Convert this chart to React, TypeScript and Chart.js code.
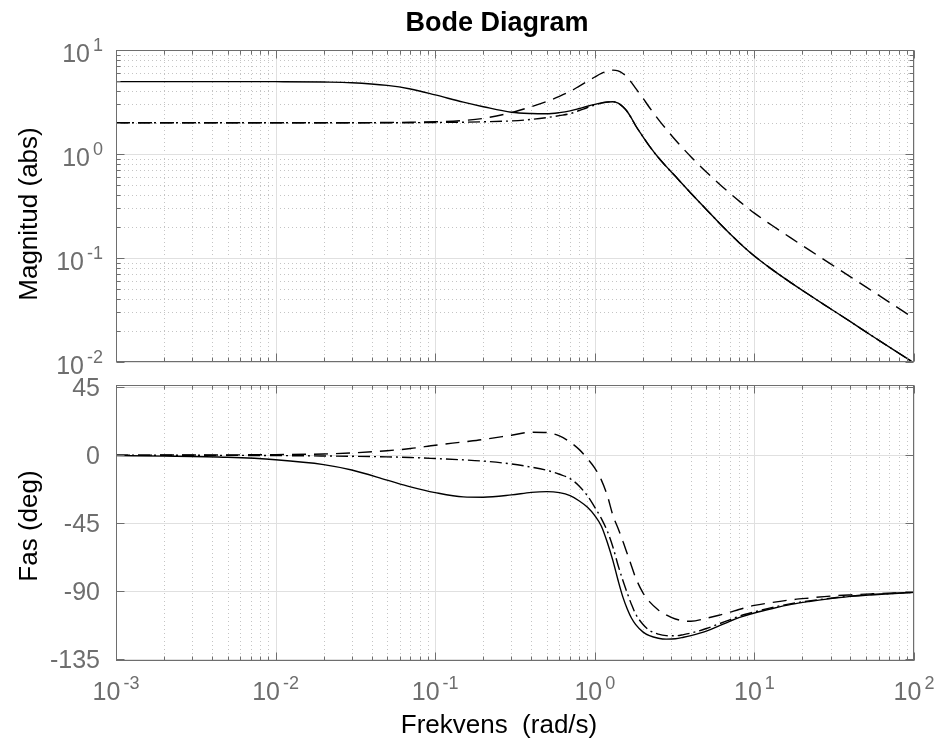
import React, { useEffect, useRef } from 'react';
import { Chart, registerables } from 'chart.js';

Chart.register(...registerables);

// ---------------- data ----------------
const freqs = [
  0.001, 0.002, 0.005, 0.01, 0.02, 0.03, 0.05, 0.07, 0.1, 0.15, 0.2, 0.3, 0.4, 0.5, 0.6, 0.7,
  0.8, 0.9, 1.0, 1.1, 1.2, 1.3, 1.4, 1.5, 1.6, 1.7, 1.8, 2.0, 2.2, 2.5, 2.8, 3.2, 3.6, 4.0,
  5.0, 6.0, 7.0, 8.0, 10, 13, 17, 22, 30, 40, 55, 75, 100,
];

const magSolid = [
  4.97, 4.97, 4.97, 4.96, 4.92, 4.85, 4.57, 4.22, 3.7, 3.15, 2.85, 2.52, 2.45, 2.44, 2.5, 2.6,
  2.74, 2.88, 3.0, 3.1, 3.16, 3.18, 3.08, 2.85, 2.55, 2.2, 1.88, 1.47, 1.19, 0.925, 0.76, 0.61,
  0.5, 0.42, 0.293, 0.2185, 0.172, 0.1412, 0.1045, 0.0769, 0.0577, 0.0443, 0.0325, 0.0244, 0.0177,
  0.013, 0.0098,
];

const magDashed = [
  2.0, 2.0, 2.0, 2.0, 2.0, 2.0, 2.01, 2.02, 2.04, 2.1, 2.2, 2.5, 2.85, 3.2, 3.58, 4.0,
  4.5, 5.0, 5.5, 5.95, 6.25, 6.4, 6.3, 5.95, 5.45, 4.85, 4.3, 3.45, 2.8, 2.155, 1.737, 1.365,
  1.117, 0.942, 0.671, 0.518, 0.421, 0.354, 0.27, 0.2043, 0.155, 0.1198, 0.0878, 0.0659, 0.0479,
  0.0351, 0.0263,
];

const magDashDot = [
  2.0, 2.0, 2.0, 2.0, 2.0, 2.0, 2.0, 2.0, 2.01, 2.02, 2.04, 2.08, 2.15, 2.24, 2.34, 2.44,
  2.62, 2.8, 2.96, 3.08, 3.15, 3.18, 3.08, 2.85, 2.55, 2.2, 1.88, 1.47, 1.19, 0.925, 0.76, 0.61,
  0.5, 0.42, 0.293, 0.2185, 0.172, 0.1412, 0.1045, 0.0769, 0.0577, 0.0443, 0.0325, 0.0244, 0.0177,
  0.013, 0.0098,
];

const phaseSolid = [
  -0.3, -0.6, -1.4, -3.0, -6.2, -9.8, -16.5, -21, -24.8, -27.6, -27.8, -26.3, -24.6, -24.1, -24.8, -26.8,
  -30.3, -34.5, -40, -47, -58, -70, -83, -94, -102, -108, -112, -117, -119.5, -121.2, -121.8, -121.6,
  -120.6, -119.5, -116.5, -113, -110, -107.6, -104.5, -101.5, -98.8, -96.9, -95, -93.5, -92.4,
  -91.6, -90.8,
];

const phaseDashed = [
  0, 0.1, 0.2, 0.4, 0.8, 1.5, 3.0, 4.4, 6.6, 8.8, 10.4, 13.2, 15.2, 15.0, 12.8, 8.7,
  3.7, -2.3, -8.5, -16.5, -27, -40, -48.5, -57, -65.5, -73.5, -81, -91, -97, -102.5, -105.8, -108.5,
  -109.7, -110, -108, -106, -104, -102.2, -99.5, -97.5, -95.8, -94.6, -93.3, -92.5, -91.8,
  -91.2, -90.8,
];

const phaseDashDot = [
  0, -0.05, -0.1, -0.25, -0.5, -0.7, -1.1, -1.5, -2.2, -3.1, -3.9, -5.8, -7.9, -10, -12.6, -15.5,
  -20.5, -27, -34.5, -42, -50.5, -61, -73, -83, -91.5, -99, -105, -112, -116, -118.5, -119.5, -119.6,
  -118.8, -117.8, -114.8, -111.7, -109, -106.7, -103.8, -100.8, -98.3, -96.5, -94.7, -93.3, -92.3,
  -91.5, -90.8,
];

const xTickValues = [0.001, 0.01, 0.1, 1, 10, 100];
const xTickExponents = ['-3', '-2', '-1', '0', '1', '2'];
const magTickValues = [0.01, 0.1, 1, 10];
const magTickExponents = ['-2', '-1', '0', '1'];
const phaseTickValues = [-135, -90, -45, 0, 45];
const phaseTickLabels = ['-135', '-90', '-45', '0', '45'];
const minorMultipliers = [2, 3, 4, 5, 6, 7, 8, 9];

const titleText = 'Bode Diagram';
const magLabel = 'Magnitud (abs)';
const phaseLabel = 'Fas (deg)';
const freqLabel = 'Frekvens  (rad/s)';

// ---------------- styling ----------------
const FONT = '"Liberation Sans", Arial, Helvetica, sans-serif';
const AXIS_COLOR = '#6e6e6e';
const TICK_TEXT = '#6e6e6e';
const MAJOR_GRID = '#e0e0e0';
const MINOR_GRID = '#c4c4c4';
const W = 939;
const H = 742;

function minorValues(decades: number[]) {
  const out: number[] = [];
  decades.forEach((d) => minorMultipliers.forEach((m) => out.push(m * Math.pow(10, d))));
  return out;
}

function drawPow(ctx: CanvasRenderingContext2D, exp: string, x: number, baseline: number, align: 'center' | 'right') {
  ctx.font = `25px ${FONT}`;
  const wb = ctx.measureText('10').width;
  ctx.font = `18px ${FONT}`;
  const we = ctx.measureText(exp).width;
  const gap = 3;
  const total = wb + gap + we;
  const x0 = align === 'center' ? x - total / 2 : x - total;
  ctx.textAlign = 'left';
  ctx.textBaseline = 'alphabetic';
  ctx.font = `25px ${FONT}`;
  ctx.fillText('10', x0, baseline);
  ctx.font = `18px ${FONT}`;
  ctx.fillText(exp, x0 + wb + gap, baseline - 11);
}

function framePlugin(kind: 'mag' | 'phase') {
  const isMag = kind === 'mag';
  return {
    id: 'frame_' + kind,
    beforeDatasetsDraw(chart: any) {
      const { ctx, chartArea: a } = chart;
      const x = chart.scales.x;
      const y = chart.scales.y;
      ctx.save();
      ctx.lineWidth = 1;
      // minor dotted grid
      ctx.strokeStyle = MINOR_GRID;
      ctx.setLineDash([1, 3]);
      minorValues([-3, -2, -1, 0, 1]).forEach((v) => {
        const px = Math.round(x.getPixelForValue(v)) + 0.5;
        ctx.beginPath();
        ctx.moveTo(px, a.top);
        ctx.lineTo(px, a.bottom);
        ctx.stroke();
      });
      if (isMag) {
        minorValues([-2, -1, 0]).forEach((v) => {
          const py = Math.round(y.getPixelForValue(v)) + 0.5;
          ctx.beginPath();
          ctx.moveTo(a.left, py);
          ctx.lineTo(a.right, py);
          ctx.stroke();
        });
      }
      // major solid grid
      ctx.setLineDash([]);
      ctx.strokeStyle = MAJOR_GRID;
      xTickValues.forEach((v) => {
        const px = Math.round(x.getPixelForValue(v)) + 0.5;
        ctx.beginPath();
        ctx.moveTo(px, a.top);
        ctx.lineTo(px, a.bottom);
        ctx.stroke();
      });
      (isMag ? magTickValues : phaseTickValues).forEach((v) => {
        const py = Math.round(y.getPixelForValue(v)) + 0.5;
        ctx.beginPath();
        ctx.moveTo(a.left, py);
        ctx.lineTo(a.right, py);
        ctx.stroke();
      });
      ctx.restore();
    },
    afterDraw(chart: any) {
      const { ctx, chartArea: a } = chart;
      const x = chart.scales.x;
      const y = chart.scales.y;
      ctx.save();
      ctx.setLineDash([]);
      ctx.strokeStyle = AXIS_COLOR;
      ctx.lineWidth = 1;
      const L = Math.round(a.left) + 0.5;
      const R = Math.round(a.right) - 0.5;
      const T = Math.round(a.top) + 0.5;
      const B = Math.round(a.bottom) - 0.5;
      ctx.strokeRect(L, T, R - L, B - T);
      const tick = (x1: number, y1: number, x2: number, y2: number) => {
        ctx.beginPath();
        ctx.moveTo(x1, y1);
        ctx.lineTo(x2, y2);
        ctx.stroke();
      };
      // x ticks (top & bottom)
      xTickValues.forEach((v) => {
        const px = Math.round(x.getPixelForValue(v)) + 0.5;
        tick(px, T, px, T + 8);
        tick(px, B, px, B - 8);
      });
      minorValues([-3, -2, -1, 0, 1]).forEach((v) => {
        const px = Math.round(x.getPixelForValue(v)) + 0.5;
        tick(px, T, px, T + 4);
        tick(px, B, px, B - 4);
      });
      // y ticks (left & right)
      (isMag ? magTickValues : phaseTickValues).forEach((v) => {
        const py = Math.round(y.getPixelForValue(v)) + 0.5;
        tick(L, py, L + 8, py);
        tick(R, py, R - 8, py);
      });
      if (isMag) {
        minorValues([-2, -1, 0]).forEach((v) => {
          const py = Math.round(y.getPixelForValue(v)) + 0.5;
          tick(L, py, L + 4, py);
          tick(R, py, R - 4, py);
        });
      }
      // tick labels
      ctx.fillStyle = TICK_TEXT;
      if (isMag) {
        magTickValues.forEach((v, i) => {
          const py = y.getPixelForValue(v);
          drawPow(ctx, magTickExponents[i], 103, py + 12, 'right');
        });
      } else {
        ctx.font = `25px ${FONT}`;
        ctx.textAlign = 'right';
        ctx.textBaseline = 'alphabetic';
        phaseTickValues.forEach((v, i) => {
          const py = y.getPixelForValue(v);
          ctx.fillText(phaseTickLabels[i], 100, py + 9);
        });
        xTickValues.forEach((v, i) => {
          const px = x.getPixelForValue(v);
          drawPow(ctx, xTickExponents[i], px, 700, 'center');
        });
      }
      // titles
      ctx.fillStyle = '#000';
      if (isMag) {
        ctx.font = `bold 27px ${FONT}`;
        ctx.textAlign = 'center';
        ctx.textBaseline = 'alphabetic';
        ctx.fillText(titleText, 497, 31);
      } else {
        ctx.font = `26px ${FONT}`;
        ctx.textAlign = 'center';
        ctx.textBaseline = 'alphabetic';
        ctx.fillText(freqLabel, 499, 733);
      }
      ctx.save();
      ctx.translate(37, isMag ? 214 : 526);
      ctx.rotate(-Math.PI / 2);
      ctx.font = `26px ${FONT}`;
      ctx.textAlign = 'center';
      ctx.textBaseline = 'alphabetic';
      ctx.fillText(isMag ? magLabel : phaseLabel, 0, 0);
      ctx.restore();
      ctx.restore();
    },
  };
}

const dashes: number[][] = [[], [14, 8], [12, 4, 2, 4]];

function makeConfig(kind: 'mag' | 'phase') {
  const isMag = kind === 'mag';
  const series = isMag ? [magSolid, magDashed, magDashDot] : [phaseSolid, phaseDashed, phaseDashDot];
  return {
    type: 'line',
    data: {
      datasets: series.map((s, i) => ({
        data: freqs.map((f, j) => ({ x: f, y: s[j] })),
        borderColor: '#000000',
        borderWidth: 1.4,
        borderDash: dashes[i],
        pointRadius: 0,
        cubicInterpolationMode: 'monotone',
        fill: false,
      })),
    },
    options: {
      animation: false,
      responsive: false,
      devicePixelRatio: 1,
      events: [],
      layout: {
        padding: isMag
          ? { left: 116, right: 25, top: 50, bottom: H - 362 }
          : { left: 116, right: 25, top: 385, bottom: H - 661 },
      },
      plugins: { legend: { display: false }, tooltip: { enabled: false }, title: { display: false } },
      scales: {
        x: { type: 'logarithmic', min: 0.001, max: 100, display: false },
        y: isMag
          ? { type: 'logarithmic', min: 0.01, max: 10, display: false }
          : { type: 'linear', min: -136.3, max: 46.5, display: false },
      },
    },
    plugins: [framePlugin(kind)],
  };
}

export default function App() {
  const topRef = useRef<HTMLCanvasElement>(null);
  const botRef = useRef<HTMLCanvasElement>(null);
  useEffect(() => {
    const c1 = new Chart(topRef.current as HTMLCanvasElement, makeConfig('mag') as any);
    const c2 = new Chart(botRef.current as HTMLCanvasElement, makeConfig('phase') as any);
    return () => {
      c1.destroy();
      c2.destroy();
    };
  }, []);
  return (
    <div style={{ position: 'fixed', left: 0, top: 0, width: W, height: H, background: '#ffffff' }}>
      <canvas ref={topRef} width={W} height={H} style={{ position: 'absolute', left: 0, top: 0 }} />
      <canvas ref={botRef} width={W} height={H} style={{ position: 'absolute', left: 0, top: 0 }} />
    </div>
  );
}
